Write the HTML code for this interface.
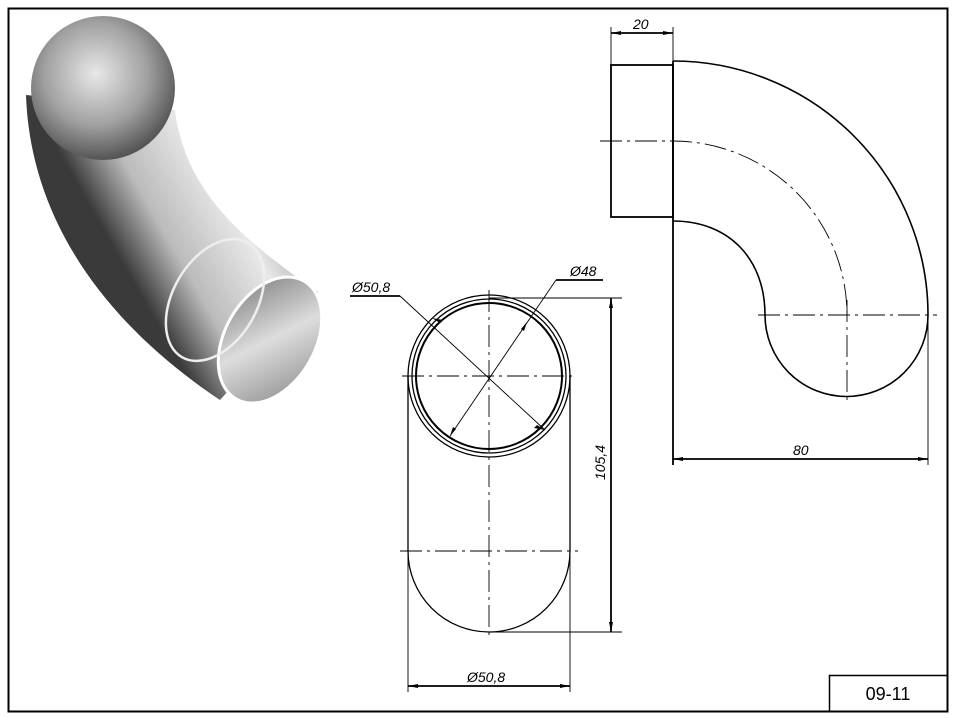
<!DOCTYPE html>
<html><head><meta charset="utf-8"><style>
html,body{margin:0;padding:0;background:#fff;}
svg{display:block;}
text{font-family:"Liberation Sans",sans-serif;font-style:italic;}
</style></head><body>
<svg width="957" height="719" viewBox="0 0 957 719" xmlns="http://www.w3.org/2000/svg">
<defs>
<linearGradient id="g1" x1="0" y1="0" x2="1" y2="-0.6">
<stop offset="0" stop-color="#3a3a3a"/><stop offset="0.15" stop-color="#bbb"/><stop offset="0.35" stop-color="#e8e8e8"/><stop offset="0.55" stop-color="#8a8a8a"/><stop offset="0.8" stop-color="#c8c8c8"/><stop offset="1" stop-color="#555"/>
</linearGradient>
<radialGradient id="g2" cx="0.45" cy="0.4" r="0.6">
<stop offset="0" stop-color="#e8e8e8"/><stop offset="0.6" stop-color="#a0a0a0"/><stop offset="1" stop-color="#555"/>
</radialGradient>
<linearGradient id="g3" x1="0" y1="0" x2="1" y2="1">
<stop offset="0" stop-color="#777"/><stop offset="0.5" stop-color="#ddd"/><stop offset="1" stop-color="#888"/>
</linearGradient>
</defs>
<rect x="8.5" y="8.5" width="939" height="703" fill="none" stroke="#000" stroke-width="2"/>
<rect x="829.5" y="675.5" width="118" height="36" fill="none" stroke="#000" stroke-width="1.5"/>
<text x="888" y="700" font-size="18" text-anchor="middle" style="font-style:normal">09-11</text>

<!-- 3D render approximation -->
<path d="M26,95 C30,215 100,320 220,400 L318,292 C250,245 185,195 175,110 Z" fill="url(#g1)"/>
<circle cx="103" cy="88" r="72" fill="url(#g2)"/>
<ellipse cx="270" cy="340" rx="45" ry="68" transform="rotate(30 270 340)" fill="url(#g3)" stroke="#fff" stroke-width="3"/>
<ellipse cx="215" cy="300" rx="42" ry="66" transform="rotate(30 215 300)" fill="none" stroke="#eee" stroke-width="2.5"/>

<g stroke="#000" fill="none" stroke-width="1.3">
<circle cx="489" cy="376" r="81"/>
<circle cx="489" cy="376" r="77"/>
<circle cx="489" cy="376" r="73" stroke-width="2"/>
<line x1="408" y1="376" x2="408" y2="551"/>
<line x1="570" y1="376" x2="570" y2="551"/>
<path d="M408,551 A81,81 0 0 0 570,551"/>
<g stroke-width="0.9" stroke-dasharray="22,5,3,5">
<line x1="402" y1="376" x2="576" y2="376"/>
<line x1="489" y1="290" x2="489" y2="640"/>
<line x1="400" y1="551" x2="578" y2="551"/>
</g>
<g stroke-width="0.9">
<line x1="350" y1="296" x2="400" y2="296" stroke-width="1.8"/>
<line x1="400" y1="296" x2="545" y2="430"/>
<line x1="556" y1="280" x2="603" y2="280" stroke-width="1.8"/>
<line x1="556" y1="280" x2="450" y2="436"/>
<line x1="489" y1="298" x2="622" y2="298"/>
<line x1="489" y1="632" x2="622" y2="632"/>
<line x1="611" y1="298" x2="611" y2="632" stroke-width="1.8"/>
<line x1="408" y1="551" x2="408" y2="692"/>
<line x1="570" y1="551" x2="570" y2="692"/>
<line x1="408" y1="686" x2="570" y2="686" stroke-width="1.8"/>
</g>
<rect x="611" y="65" width="62" height="152" stroke-width="1.8"/>
<line x1="673" y1="61" x2="673" y2="465" stroke-width="1.8"/>
<path d="M673,61 A255,254 0 0 1 928,315 A81,81 0 0 1 765,315 C765,260 730,221 673,221" stroke-width="1.6"/>
<g stroke-width="0.9" stroke-dasharray="22,5,3,5">
<path d="M600,141 L673,141 A174,174 0 0 1 847,315"/>
<line x1="758" y1="315" x2="937" y2="315"/>
<line x1="847" y1="300" x2="847" y2="405"/>
</g>
<g stroke-width="0.9">
<line x1="611" y1="27" x2="611" y2="65"/>
<line x1="673" y1="27" x2="673" y2="61"/>
<line x1="611" y1="33" x2="673" y2="33" stroke-width="1.8"/>
<line x1="928" y1="315" x2="928" y2="465"/>
<line x1="673" y1="459" x2="928" y2="459" stroke-width="1.8"/>
</g>
</g>
<g fill="#000">
<path d="M611,298 l-2,10 l4,0z"/><path d="M611,632 l-2,-10 l4,0z"/>
<path d="M408,686 l10,-2 l0,4z"/><path d="M570,686 l-10,-2 l0,4z"/>
<path d="M611,33 l10,-2 l0,4z"/><path d="M673,33 l-10,-2 l0,4z"/>
<path d="M673,459 l10,-2 l0,4z"/><path d="M928,459 l-10,-2 l0,4z"/>
<path d="M545,430 l-8,-5 l-3,3z"/><path d="M432,318 l8,5 l3,-3z"/>
<path d="M450,436 l3,-9 l3,2z"/><path d="M527,322 l-3,9 l-3,-2z"/>
</g>
<g font-size="14">
<text x="352" y="292">Ø50,8</text>
<text x="570" y="276">Ø48</text>
<text x="467" y="682">Ø50,8</text>
<text x="633" y="29">20</text>
<text x="793" y="455">80</text>
<text x="605" y="480" transform="rotate(-90 605 480)">105,4</text>
</g>
</svg>
</body></html>
